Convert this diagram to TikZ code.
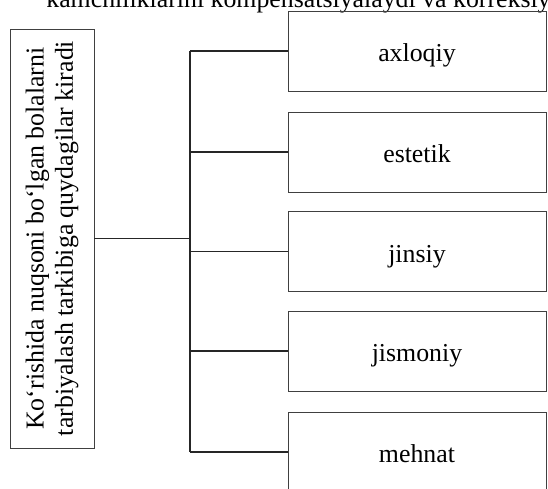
\documentclass[tikz,border=0pt]{standalone}
\usepackage{fontspec}
\setmainfont{Liberation Serif}
\usepackage{tikz}

\begin{document}
\begin{tikzpicture}[x=0.02cm, y=0.02cm,
  boks/.style={draw=black!75, line width=0.5pt, minimum width=5.16cm, minimum height=1.6cm, inner sep=0pt, text height=12.4pt, text depth=0pt, font=\fontsize{14.7}{17}\selectfont},
  asosiy/.style={draw=black!75, line width=0.5pt, rotate=90, minimum width=8.38cm, minimum height=1.68cm, inner sep=0pt, align=center, font=\fontsize{14.7}{16.6}\selectfont},
  chiziq/.style={line width=0.7pt, black!85}]
\useasboundingbox (0,0) rectangle (548,-489);
								%Kesilgan satr
								\begin{scope}
									\clip (0,0) rectangle (548,-489);
									\node[anchor=base west, inner sep=0pt, font=\fontsize{14.7}{17}\selectfont] (satr) at (46,-8) {kamchiliklarini kompensatsiyalaydi va korreksiyalaydi};
								\end{scope}

								%Tugunlar
								\node[asosiy] (asos) at (52,-238.5) {Ko‘rishida nuqsoni bo‘lgan bolalarni\\tarbiyalash tarkibiga quydagilar kiradi};
								\node[boks] (b1) at (417,-51) {axloqiy};
								\node[boks] (b2) at (417,-152) {estetik};
								\node[boks] (b3) at (417,-251.5) {jinsiy};
								\node[boks] (b4) at (417,-351) {jismoniy};
								\node[boks] (b5) at (417,-452) {mehnat};

								%Chiziqlar
								\coordinate (tugun) at (190,-240);
								\draw[chiziq] (asos.south) -- (asos.south -| tugun);
								\draw[chiziq] (b1.west -| tugun) -- (b5.west -| tugun);
								\foreach \i in {1,...,5}
									\draw[chiziq] (b\i.west -| tugun) -- (b\i.west);
\end{tikzpicture}
\end{document}
